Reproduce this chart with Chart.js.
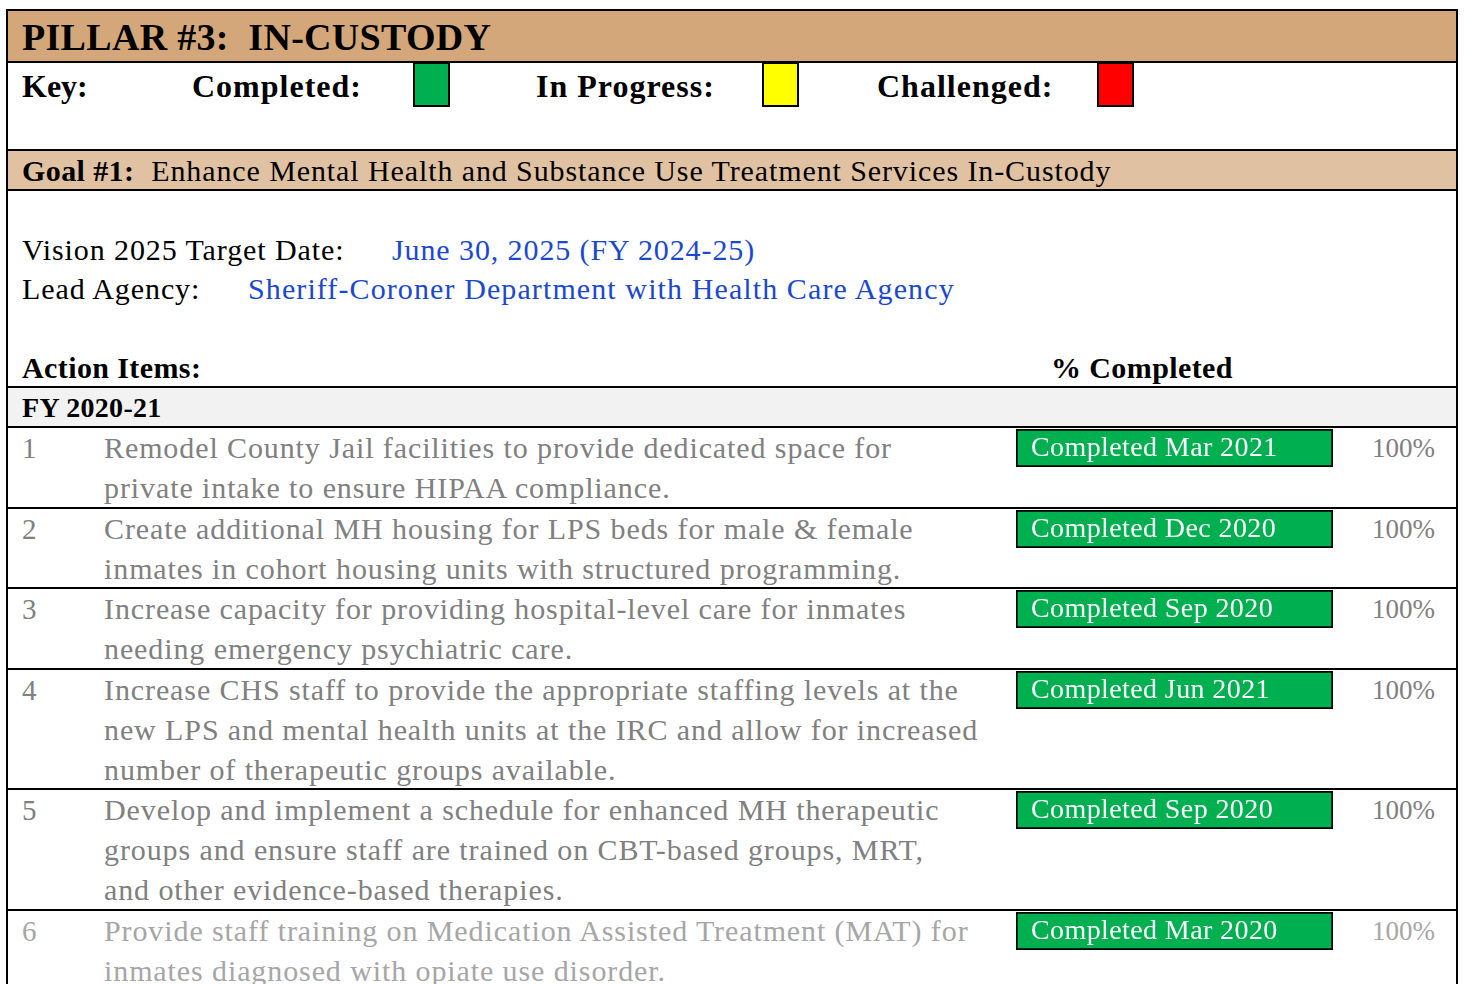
<!DOCTYPE html>
<html>
<head>
<meta charset="utf-8">
<script src="https://cdn.jsdelivr.net/npm/chart.js@4.4.1/dist/chart.umd.min.js"></script>
<style>
  html, body { margin: 0; padding: 0; background: #fff; overflow: hidden; }
  body { width: 1464px; height: 984px; position: relative; font-family: "Liberation Serif", "Times New Roman", serif; color: #000; }
  .abs { position: absolute; white-space: pre; }
  .hline { position: absolute; left: 7px; width: 1451px; background: #000; }
  .band { position: absolute; left: 7px; width: 1451px; }
  .b { font-weight: bold; }
  .reg { font-size: 30px; letter-spacing: 0.9px; line-height: 40px; }
  .keybox { position: absolute; top: 62px; width: 33px; height: 41px; border: 2px solid #000; }
  .blue { color: #1c48cf; }
  .rowtxt { position: absolute; left: 104px; line-height: 40px; font-size: 30px; letter-spacing: 0.9px; white-space: nowrap; }
  .rownum { position: absolute; left: 22px; line-height: 40px; font-size: 29px; }
  .pct { position: absolute; left: 1372px; line-height: 40px; font-size: 27px; }
  .barwrap { position: absolute; left: 1016px; width: 317px; height: 38px; }
</style>
</head>
<body>
<div id="page"></div>
<script>
// ---- data ----
const pillarTitle = "PILLAR #3:  IN-CUSTODY";
const keyLabels = ["Completed:", "In Progress:", "Challenged:"];
const keyColors = ["#00B050", "#FFFF00", "#FF0000"];
const goalLabel = "Goal #1:";
const goalText = "Enhance Mental Health and Substance Use Treatment Services In-Custody";
const targetDate = "June 30, 2025 (FY 2024-25)";
const leadAgency = "Sheriff-Coroner Department with Health Care Agency";
const fiscalYear = "FY 2020-21";
const itemNumbers = ["1", "2", "3", "4", "5", "6"];
const itemLines = [
  ["Remodel County Jail facilities to provide dedicated space for", "private intake to ensure HIPAA compliance."],
  ["Create additional MH housing for LPS beds for male & female", "inmates in cohort housing units with structured programming."],
  ["Increase capacity for providing hospital-level care for inmates", "needing emergency psychiatric care."],
  ["Increase CHS staff to provide the appropriate staffing levels at the", "new LPS and mental health units at the IRC and allow for increased", "number of therapeutic groups available."],
  ["Develop and implement a schedule for enhanced MH therapeutic", "groups and ensure staff are trained on CBT-based groups, MRT,", "and other evidence-based therapies."],
  ["Provide staff training on Medication Assisted Treatment (MAT) for", "inmates diagnosed with opiate use disorder."]
];
const statusLabels = ["Completed Mar 2021", "Completed Dec 2020", "Completed Sep 2020", "Completed Jun 2021", "Completed Sep 2020", "Completed Mar 2020"];
const percentCompleted = [100, 100, 100, 100, 100, 100];

// ---- layout ----
const page = document.getElementById('page');
function el(tag, cls, style, text) {
  const e = document.createElement(tag);
  if (cls) e.className = cls;
  if (style) e.setAttribute('style', style);
  if (text !== undefined) e.textContent = text;
  page.appendChild(e);
  return e;
}
// bands
el('div', 'band', 'top:10px;height:52px;background:#D3A77A;');
el('div', 'band', 'top:150px;height:40px;background:#E0C2A2;');
el('div', 'band', 'top:387px;height:40px;background:#F2F2F2;');
// outer border verticals
el('div', '', 'position:absolute;left:6px;top:9px;width:2px;height:990px;background:#000;');
el('div', '', 'position:absolute;left:1456px;top:9px;width:2px;height:990px;background:#000;');
// horizontal lines
[9, 61, 149, 189, 386, 426].forEach(y => el('div', 'hline', `top:${y}px;height:2px;`));

el('div', 'abs b', 'left:22px;top:14px;font-size:38px;line-height:46px;letter-spacing:0.3px;', pillarTitle);
el('div', 'abs b', 'left:22px;top:66px;font-size:32px;line-height:40px;', 'Key:');
const keyX = [192, 536, 877];
const boxX = [413, 762, 1097];
keyLabels.forEach((k, i) => {
  el('div', 'abs b', `left:${keyX[i]}px;top:66px;font-size:32px;line-height:40px;letter-spacing:1px;`, k);
  el('div', 'keybox', `left:${boxX[i]}px;background:${keyColors[i]};`);
});
const g = el('div', 'abs reg', 'left:22px;top:152px;line-height:38px;');
g.innerHTML = `<b style="letter-spacing:0.4px">${goalLabel}</b>  ${goalText}`;
el('div', 'abs reg', 'left:22px;top:230px;', 'Vision 2025 Target Date:');
el('div', 'abs reg blue', 'left:392px;top:230px;', targetDate);
el('div', 'abs reg', 'left:22px;top:269px;', 'Lead Agency:');
el('div', 'abs reg blue', 'left:248px;top:269px;letter-spacing:1.1px;', leadAgency);
el('div', 'abs b', 'left:22px;top:348px;font-size:30px;line-height:40px;letter-spacing:0.4px;', 'Action Items:');
el('div', 'abs b', 'left:1051px;top:348px;font-size:30px;line-height:40px;letter-spacing:0.4px;', '% Completed');
el('div', 'abs b', 'left:22px;top:389px;font-size:28px;line-height:38px;letter-spacing:0.3px;', fiscalYear);

// rows
const statusPlugin = {
  id: 'statusText',
  afterDatasetsDraw(chart) {
    const ctx = chart.ctx;
    const meta = chart.getDatasetMeta(0);
    meta.data.forEach((bar, i) => {
      ctx.save();
      ctx.fillStyle = '#ffffff';
      ctx.font = '28px "Liberation Serif", serif';
      if ('letterSpacing' in ctx) ctx.letterSpacing = '0.4px';
      ctx.textBaseline = 'middle';
      ctx.fillText(chart.data.labels[i], bar.base + 15, bar.y + 1);
      ctx.restore();
    });
  }
};

let cum = 427;
itemLines.forEach((lines, i) => {
  const y = Math.round(cum) + 1;
  const faded = i === 5;
  const col = faded ? '#A6A6A6' : '#808080';
  el('div', 'rownum', `top:${y}px;color:${col};`, itemNumbers[i]);
  const t = el('div', 'rowtxt', `top:${y}px;color:${col};`);
  t.innerHTML = lines.map(s => s.replace(/&/g, '&amp;')).join('<br>');
  el('div', 'pct', `top:${y}px;color:${col};`, percentCompleted[i] + '%');
  const wrap = el('div', 'barwrap', `top:${y + 1}px;`);
  const cv = document.createElement('canvas');
  cv.width = 317; cv.height = 38;
  cv.style.width = '317px'; cv.style.height = '38px';
  wrap.appendChild(cv);
  new Chart(cv, {
    type: 'bar',
    data: {
      labels: [statusLabels[i]],
      datasets: [{
        data: [percentCompleted[i]],
        backgroundColor: '#00B050',
        borderColor: '#000000',
        borderWidth: 2,
        borderSkipped: false,
        barPercentage: 1,
        categoryPercentage: 1
      }]
    },
    options: {
      indexAxis: 'y',
      responsive: false,
      devicePixelRatio: 1,
      animation: false,
      layout: { padding: 0 },
      plugins: { legend: { display: false }, tooltip: { enabled: false } },
      scales: {
        x: { display: false, min: 0, max: 100 },
        y: { display: false }
      }
    },
    plugins: [statusPlugin]
  });
  cum += lines.length * 40 + 0.5;
  el('div', 'hline', `top:${Math.round(cum) - 1}px;height:2px;`);
});
</script>
</body>
</html>
